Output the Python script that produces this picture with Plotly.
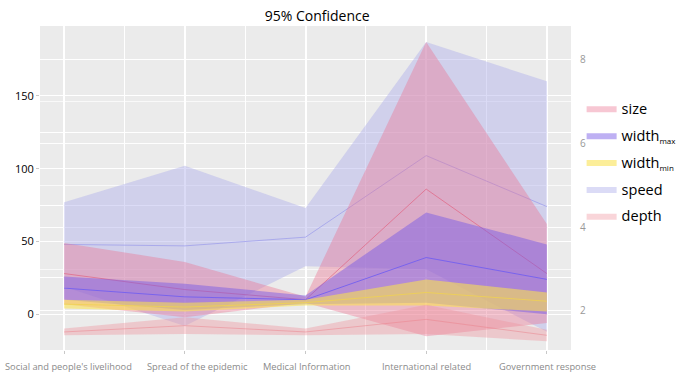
import plotly.graph_objects as go

categories = ["Social and people's livelihood", "Spread of the epidemic",
              "Medical Information", "International related", "Government response"]

size_low = [7, -2, 8, -15, -6]
size_mean = [28, 17, 10, 86, 28]
size_high = [49, 36, 12, 187, 62]

wmax_low = [10, 3, 7, 8, 0]
wmax_mean = [18, 12, 10, 39, 24]
wmax_high = [26, 21, 13, 70, 48]

wmin_low = [4, 2, 6, 6, 2]
wmin_mean = [7, 5, 8, 15, 9]
wmin_high = [10, 8, 10, 24, 15]

speed_low = [19, -8, 33, 31, -12]
speed_mean = [48, 47, 53, 109, 74]
speed_high = [77, 102, 73, 187, 160]

# depth is on the right axis
depth_low = [1.42, 1.45, 1.42, 1.45, 1.28]
depth_mean = [1.5, 1.65, 1.5, 1.8, 1.42]
depth_high = [1.58, 1.85, 1.58, 2.15, 1.55]

left_ticks = [0, 50, 100, 150]
right_ticks = [2, 4, 6, 8]

xs = list(range(len(categories)))
label_shift = [4, 13, 1, 0, 1]

SUB = '<sub><span style="font-size:8px">{}</span></sub>'

series = [
    ("speed", speed_low, speed_mean, speed_high, "rgba(175,175,235,0.45)", "rgba(160,160,235,0.8)", "y", 4),
    ("size", size_low, size_mean, size_high, "rgba(235,115,145,0.40)", "rgba(225,100,130,0.7)", "y", 1),
    ("width" + SUB.format("max"), wmax_low, wmax_mean, wmax_high, "rgba(120,90,230,0.48)", "rgba(115,95,240,0.9)", "y", 2),
    ("width" + SUB.format("min"), wmin_low, wmin_mean, wmin_high, "rgba(250,225,80,0.58)", "rgba(240,210,80,0.8)", "y", 3),
    ("depth", depth_low, depth_mean, depth_high, "rgba(240,145,155,0.38)", "rgba(235,130,140,0.5)", "y2", 5),
]

fig = go.Figure()
for name, lo, me, hi, fc, lc, ax, rank in series:
    fig.add_trace(go.Scatter(
        x=xs + xs[::-1], y=hi + lo[::-1], fill="toself", fillcolor=fc,
        line=dict(width=0), mode="lines", name=name, yaxis=ax,
        legendrank=rank, legendgroup=name, hoverinfo="skip"))
    fig.add_trace(go.Scatter(
        x=xs, y=me, mode="lines", line=dict(color=lc, width=1),
        showlegend=False, legendgroup=name, yaxis=ax))

annotations = []
for i, (c, s) in enumerate(zip(categories, label_shift)):
    annotations.append(dict(x=i, y=0, xref="x", yref="paper", text=c, showarrow=False,
                            xanchor="center", yanchor="middle", yshift=-16, xshift=s,
                            font=dict(size=9.3, color="#8a8a8a")))

fig.update_layout(
    width=682, height=384,
    margin=dict(l=40, r=111, t=26, b=34, autoexpand=False),
    paper_bgcolor="white", plot_bgcolor="#EBEBEB",
    font=dict(family="Open Sans", color="#333"),
    title=dict(text="95% Confidence", x=0.465, xref="container", xanchor="center",
               y=0.958, yref="container", yanchor="middle",
               font=dict(size=14, color="black")),
    annotations=annotations,
    showlegend=True,
    legend=dict(x=1.02, y=0.795, xanchor="left", yanchor="top",
                font=dict(size=14.5, color="black"), bgcolor="rgba(0,0,0,0)",
                tracegroupgap=5),
    xaxis=dict(range=[-0.2, 4.2], tickvals=xs, showticklabels=False, showgrid=True,
               gridcolor="white", gridwidth=1.5, zeroline=False,
               ticks="outside", ticklen=3, tickcolor="#c8c8c8",
               minor=dict(dtick=0.5, tick0=0, showgrid=True, gridcolor="white", gridwidth=0.7)),
    yaxis=dict(range=[-24.5, 198], tickvals=left_ticks,
               tickfont=dict(size=11, color="black"), showgrid=True,
               gridcolor="white", gridwidth=1.2, zeroline=False,
               ticks="outside", ticklen=3, tickcolor="#c8c8c8",
               minor=dict(dtick=25, tick0=0, showgrid=True, gridcolor="white", gridwidth=0.6)),
    yaxis2=dict(range=[1.07, 8.79], tickvals=right_ticks, overlaying="y", side="right",
                tickfont=dict(size=10, color="#999"), showgrid=True,
                gridcolor="rgba(255,255,255,0.8)", gridwidth=0.8, zeroline=False,
                minor=dict(dtick=1, tick0=0, showgrid=True, gridcolor="rgba(255,255,255,0.7)", gridwidth=0.6),
                ticklabelstandoff=8),
)

fig.write_html("out.html", config={"displayModeBar": False},
               post_script="document.body.style.margin='0';document.body.style.overflow='hidden';")
